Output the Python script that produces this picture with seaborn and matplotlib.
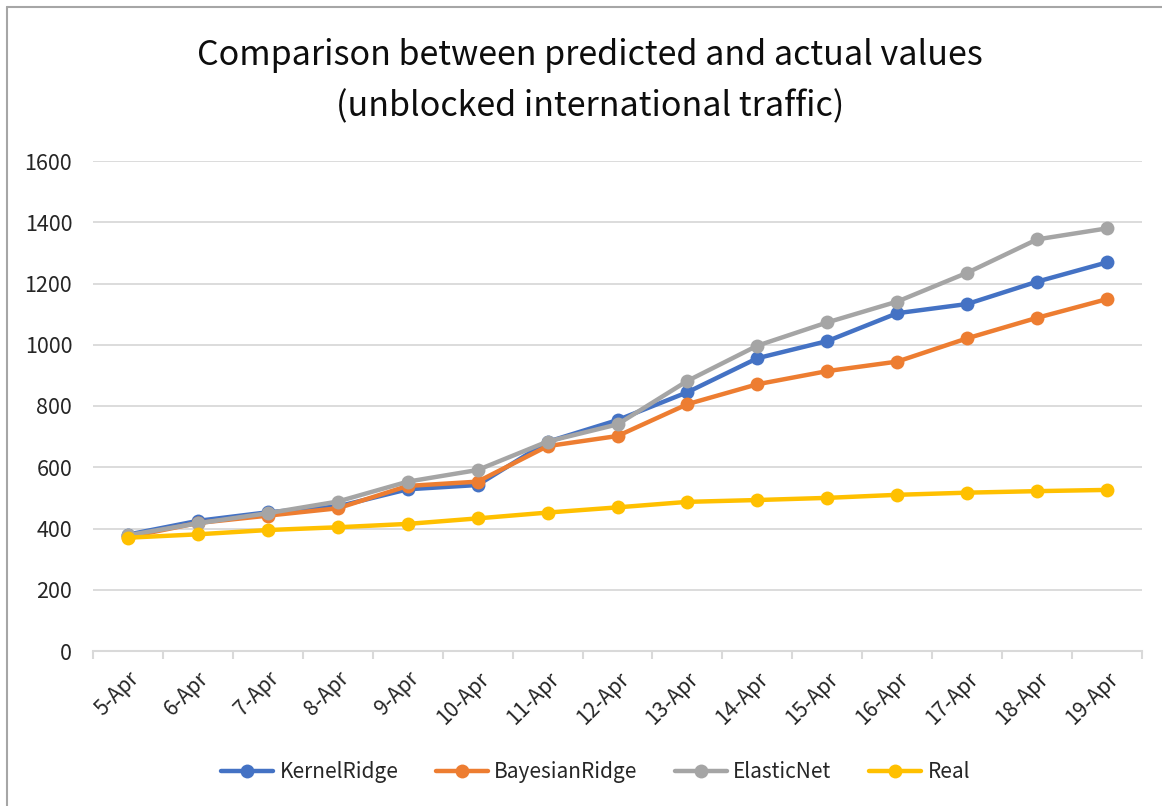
import pandas as pd
import matplotlib
matplotlib.use("Agg")
import matplotlib.pyplot as plt
from matplotlib.lines import Line2D
import seaborn as sns
import numpy as np

# Data
dates = ["5-Apr", "6-Apr", "7-Apr", "8-Apr", "9-Apr", "10-Apr", "11-Apr", "12-Apr",
         "13-Apr", "14-Apr", "15-Apr", "16-Apr", "17-Apr", "18-Apr", "19-Apr"]
kernel_ridge = [380, 425, 453, 472, 528, 542, 683, 754, 845, 956, 1012, 1103, 1133, 1206, 1269]
bayesian_ridge = [372, 418, 442, 466, 539, 553, 669, 702, 806, 871, 914, 945, 1021, 1088, 1149]
elastic_net = [378, 417, 450, 488, 553, 591, 684, 740, 882, 997, 1073, 1141, 1235, 1344, 1380]
real = [370, 381, 395, 404, 415, 433, 452, 469, 487, 493, 500, 510, 517, 522, 526]

series_names = ["KernelRidge", "BayesianRidge", "ElasticNet", "Real"]
colors = ["#4472C4", "#ED7D31", "#A5A5A5", "#FFC000"]

# Long format table for seaborn
df = pd.DataFrame({
    "Date": dates * 4,
    "Value": kernel_ridge + bayesian_ridge + elastic_net + real,
    "Model": np.repeat(series_names, len(dates)),
})

sns.set_theme(style="white")
plt.rcParams["font.family"] = ["Noto Sans CJK SC", "DejaVu Sans"]

fig = plt.figure(figsize=(11.62, 8.06), dpi=100)
ax = fig.add_axes([93 / 1162, 1 - 651 / 806, (1142 - 93) / 1162, 490 / 806])

sns.lineplot(
    data=df, x="Date", y="Value", hue="Model", hue_order=series_names,
    palette=colors, marker="o", markersize=10, markeredgewidth=0,
    linewidth=3.2, sort=False, ax=ax,
)

# Axes styling (Excel look)
ax.set_xlim(-0.5, len(dates) - 0.5)
ax.set_ylim(0, 1600)
ax.set_yticks(np.arange(0, 1601, 200))
ax.grid(axis="y", color="#D9D9D9", linewidth=1.3)
ax.set_axisbelow(True)
for side in ["left", "right", "top"]:
    ax.spines[side].set_visible(False)
ax.spines["bottom"].set_color("#D9D9D9")
ax.spines["bottom"].set_linewidth(1.5)
ax.set_xlabel("")
ax.set_ylabel("")

ax.set_xticks(range(len(dates)))
ax.set_xticklabels(dates, rotation=45, ha="right", rotation_mode="anchor")
ax.set_xticks(np.arange(-0.5, len(dates), 1), minor=True)
ax.tick_params(axis="x", which="major", length=0, pad=12, labelsize=15, labelcolor="#262626")
ax.tick_params(axis="x", which="minor", length=6, width=1.5, color="#D9D9D9", bottom=True)
ax.tick_params(axis="y", length=0, pad=15, labelsize=15.5, labelcolor="#262626")

fig.suptitle("Comparison between predicted and actual values\n(unblocked international traffic)",
             x=590 / 1162, y=1 - 38 / 806, fontsize=24.5, color="#0D0D0D", linespacing=1.6)

ax.legend(loc="center", bbox_to_anchor=(0.479, -0.247), ncol=4, frameon=False,
          fontsize=15, handlelength=2.5, columnspacing=1.8, handletextpad=0.3)

# Chart border (left and top edges visible)
fig.add_artist(Line2D([7 / 1162, 7 / 1162], [0, 1 - 7 / 806], transform=fig.transFigure,
                      color="#A6A6A6", linewidth=1.5))
fig.add_artist(Line2D([7 / 1162, 1], [1 - 7 / 806, 1 - 7 / 806], transform=fig.transFigure,
                      color="#A6A6A6", linewidth=1.5))

fig.savefig("out.png", dpi=100)
